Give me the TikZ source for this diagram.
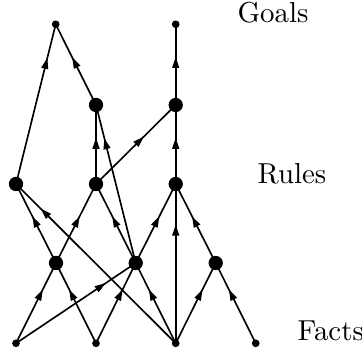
\documentclass[tikz,border=0pt]{standalone}
\usetikzlibrary{decorations.markings,arrows.meta}
\begin{document}
\begin{tikzpicture}[x=0.3636pt,y=-0.3636pt,
  edge/.style={line width=0.6pt},
  ar/.style={postaction={decorate},decoration={markings,mark=at position #1 with {\arrow{Triangle[length=4pt,width=2.5pt]}}}},
  fact/.style={circle,fill,inner sep=0pt,minimum size=2.8pt},
  rulenode/.style={circle,fill,inner sep=0pt,minimum size=5.2pt},
  lab/.style={anchor=base west,inner sep=0pt,font=\fontsize{10.5pt}{12pt}\selectfont}]
\useasboundingbox (0,0) rectangle (362,354);
% goals
\node[fact] (G1) at (55.7,24.3) {};
\node[fact] (G2) at (175.7,24.3) {};
% rules
\node[rulenode] (R3a) at (96,105) {};
\node[rulenode] (R3b) at (175.7,105) {};
\node[rulenode] (R2a) at (16,184) {};
\node[rulenode] (R2b) at (96,184) {};
\node[rulenode] (R2c) at (175.7,184) {};
\node[rulenode] (R1a) at (56,263) {};
\node[rulenode] (R1b) at (135.7,263) {};
\node[rulenode] (R1c) at (215.7,263) {};
% facts
\node[fact] (F1) at (16,343.3) {};
\node[fact] (F2) at (96,343.3) {};
\node[fact] (F3) at (175.7,343.3) {};
\node[fact] (F4) at (255.7,343.3) {};
% labels
\node[lab] (LG) at (237,23) {Goals};
\node[lab] (LR) at (257,184) {Rules};
\node[lab] (LF) at (297,341) {Facts};
% edges
\draw[edge,ar=0.79] (R2a.center) -- (G1.center);
\draw[edge,ar=0.59] (R3a.center) -- (G1.center);
\draw[edge,ar=0.595] (R3b.center) -- (G2.center);
\draw[edge,ar=0.585] (R2b.center) -- (R3a.center);
\draw[edge,ar=0.6] (R2b.center) -- (R3b.center);
\draw[edge,ar=0.79] (R1b.center) -- (R3a.center);
\draw[edge,ar=0.585] (R2c.center) -- (R3b.center);
\draw[edge,ar=0.59] (R1a.center) -- (R2a.center);
\draw[edge,ar=0.59] (R1a.center) -- (R2b.center);
\draw[edge,ar=0.59] (R1b.center) -- (R2b.center);
\draw[edge,ar=0.59] (R1b.center) -- (R2c.center);
\draw[edge,ar=0.59] (R1c.center) -- (R2c.center);
\draw[edge,ar=0.846] (F3.center) -- (R2a.center);
\draw[edge,ar=0.745] (F3.center) -- (R2c.center);
\draw[edge,ar=0.67] (F1.center) -- (R1a.center);
\draw[edge,ar=0.67] (F2.center) -- (R1a.center);
\draw[edge,ar=0.75] (F1.center) -- (R1b.center);
\draw[edge,ar=0.67] (F2.center) -- (R1b.center);
\draw[edge,ar=0.67] (F3.center) -- (R1b.center);
\draw[edge,ar=0.67] (F3.center) -- (R1c.center);
\draw[edge,ar=0.67] (F4.center) -- (R1c.center);
\end{tikzpicture}
\end{document}
